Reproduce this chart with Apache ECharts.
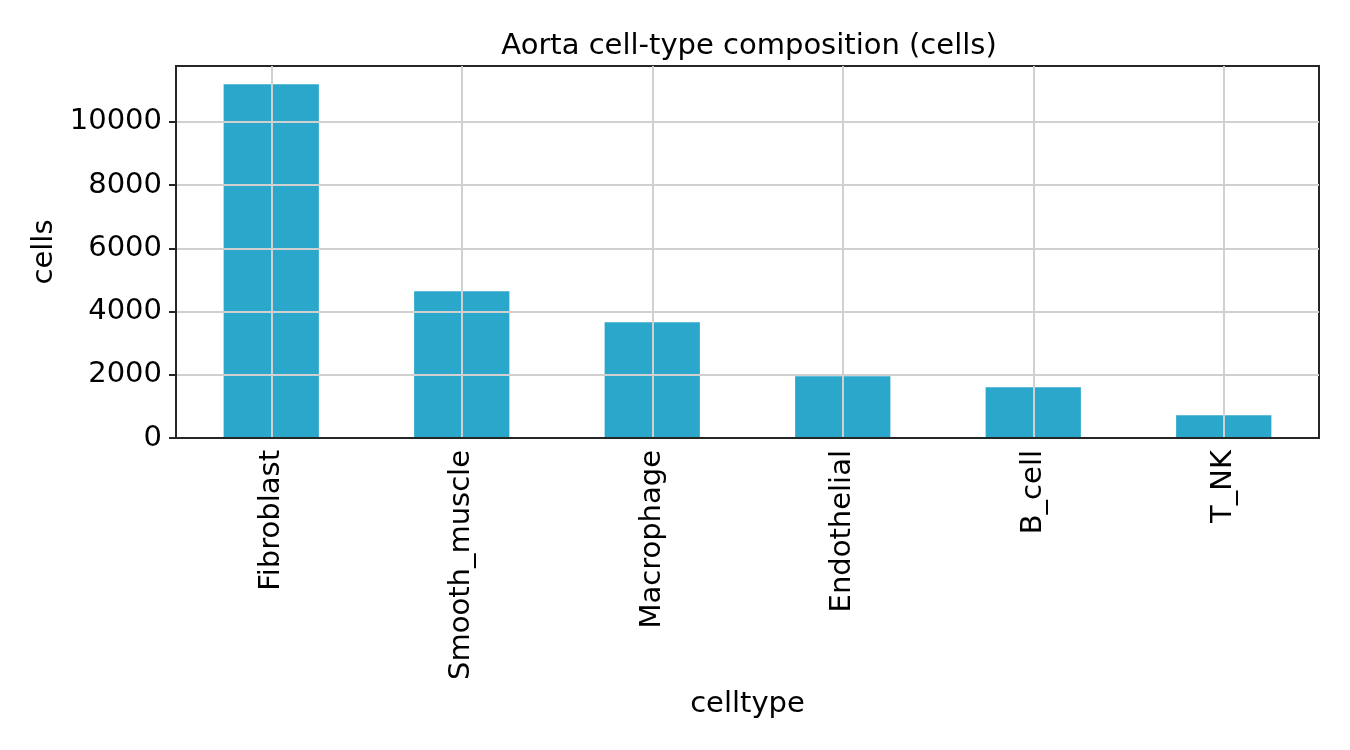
<!DOCTYPE html>
<html>
<head>
<meta charset="utf-8">
<title>Aorta cell-type composition</title>
<script src="https://cdn.jsdelivr.net/npm/echarts@6/dist/echarts.min.js"></script>
<style>
  html, body { margin: 0; padding: 0; background: #fff; }
  #chart { width: 1350px; height: 750px; }
</style>
</head>
<body>
<div id="chart"></div>
<script>
// values
const celltypes = ['Fibroblast', 'Smooth_muscle', 'Macrophage', 'Endothelial', 'B_cell', 'T_NK'];
const cellCounts = [11190, 4640, 3660, 1955, 1605, 720];
const yMax = 11770;

const FONT = 'DejaVu Sans';
const FS = 29;
const INK = '#262626';
const GRID = '#d0d0d0';

const chart = echarts.init(document.getElementById('chart'));

chart.setOption({
    animation: false,
    textStyle: { fontFamily: FONT },
    title: {
        text: 'Aorta cell-type composition (cells)',
        left: 744,
        textAlign: 'center',
        top: 27,
        textStyle: { fontFamily: FONT, fontSize: FS, fontWeight: 'normal', color: '#000' }
    },
    grid: {
        left: 176, right: 31, top: 66, bottom: 312,
        show: true,
        borderColor: INK,
        borderWidth: 2
    },
    xAxis: {
        type: 'category',
        data: celltypes,
        z: 4,
        name: 'celltype',
        nameLocation: 'middle',
        nameGap: 252,
        nameTextStyle: { fontFamily: FONT, fontSize: FS, color: '#000' },
        axisLine: { lineStyle: { color: INK, width: 2 } },
        axisTick: { alignWithLabel: true, length: 7, lineStyle: { color: INK, width: 2 } },
        axisLabel: { rotate: 90, margin: 12, fontFamily: FONT, fontSize: FS, color: '#000' },
        splitLine: { show: true, alignWithLabel: true, lineStyle: { color: GRID, width: 2 } }
    },
    yAxis: {
        type: 'value',
        min: 0,
        max: yMax,
        interval: 2000,
        z: 3,
        name: 'cells',
        nameLocation: 'middle',
        nameGap: 102,
        nameTextStyle: { fontFamily: FONT, fontSize: FS, color: '#000' },
        axisLine: { show: true, lineStyle: { color: INK, width: 2 } },
        axisTick: { show: true, length: 7, lineStyle: { color: INK, width: 2 } },
        axisLabel: {
            margin: 14, fontFamily: FONT, fontSize: FS, color: '#000', showMaxLabel: false,
            formatter: v => String(v)
        },
        splitLine: { show: true, showMinLine: false, showMaxLine: false, lineStyle: { color: GRID, width: 2 } }
    },
    series: [{
        type: 'bar',
        data: cellCounts,
        barWidth: '50%',
        z: 2,
        itemStyle: { color: '#2aa7ca' }
    }]
});
</script>
</body>
</html>
